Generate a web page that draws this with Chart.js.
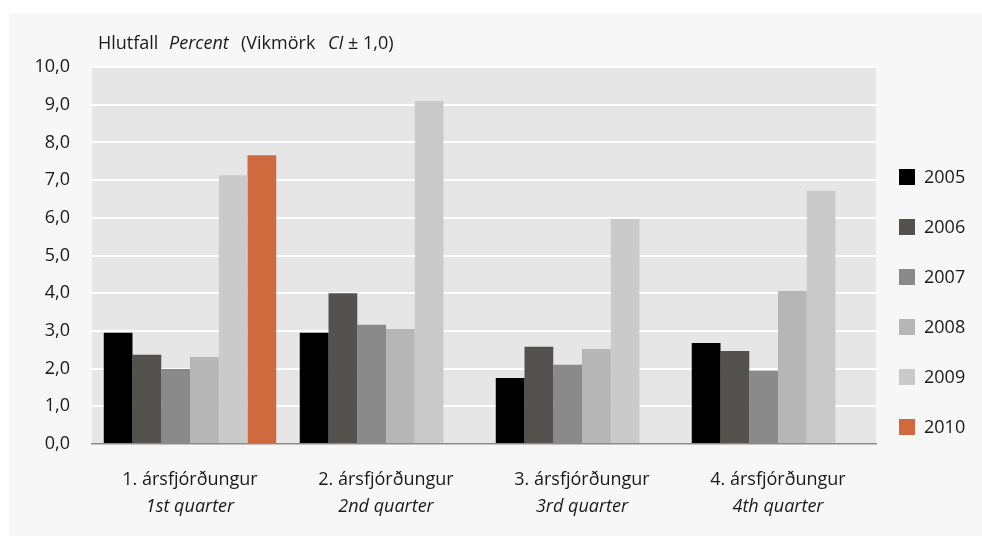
<!DOCTYPE html>
<html>
<head>
<meta charset="utf-8">
<script src="https://cdn.jsdelivr.net/npm/chart.js@4.4.1/dist/chart.umd.min.js"></script>
<style>
  html, body { margin: 0; padding: 0; background: #fff; }
  #wrap { position: relative; width: 982px; height: 536px; }
</style>
</head>
<body>
<div id="wrap"><canvas id="chart" width="982" height="536"></canvas></div>
<script>
// ---- data ----
const quarters = ['1. ársfjórðungur', '2. ársfjórðungur', '3. ársfjórðungur', '4. ársfjórðungur'];
const quartersEn = ['1st quarter', '2nd quarter', '3rd quarter', '4th quarter'];
const years = ['2005', '2006', '2007', '2008', '2009', '2010'];
const v2005 = [2.95, 2.95, 1.75, 2.68];
const v2006 = [2.37, 4.0, 2.58, 2.47];
const v2007 = [1.99, 3.16, 2.1, 1.94];
const v2008 = [2.31, 3.05, 2.52, 4.06];
const v2009 = [7.13, 9.1, 5.97, 6.72];
const v2010 = [7.66, null, null, null];
const yTicks = [0, 1, 2, 3, 4, 5, 6, 7, 8, 9, 10];

const colors = ['#000000', '#53524f', '#8a8a8a', '#b5b6b5', '#cacaca', '#cf6a3e'];
const series = [v2005, v2006, v2007, v2008, v2009, v2010];
const FONT = '"Open Sans", sans-serif';
const TXT = '#1a1a1a';

// panel + plot background
const bgPlugin = {
  id: 'bg',
  beforeDraw(chart) {
    const { ctx, chartArea: a } = chart;
    ctx.save();
    ctx.fillStyle = '#f7f7f7';
    ctx.fillRect(9, 13, chart.width - 9, chart.height - 13);
    ctx.fillStyle = '#e6e6e6';
    ctx.fillRect(a.left, a.top - 1, a.right - a.left, a.bottom - a.top + 1);
    ctx.restore();
  }
};

// title with mixed italic parts, x labels, legend
const textPlugin = {
  id: 'texts',
  afterDraw(chart) {
    const { ctx } = chart;
    ctx.save();
    ctx.fillStyle = TXT;
    ctx.textBaseline = 'alphabetic';
    ctx.textAlign = 'left';

    // axis title: [text, style, x]
    const parts = [
      ['Hlutfall', '', 98], ['Percent', 'italic ', 169], ['(Vikmörk', '', 241],
      ['CI', 'italic ', 328], ['± 1,0)', '', 348]
    ];
    parts.forEach(([t, st, x]) => {
      ctx.font = st + '18px ' + FONT;
      ctx.fillText(t, x, 49);
    });

    // category labels
    const xs = chart.scales.x;
    ctx.textAlign = 'center';
    ctx.textBaseline = 'middle';
    quarters.forEach((q, i) => {
      const px = xs.getPixelForTick(i);
      ctx.font = '18px ' + FONT;
      ctx.fillText(q, px, 480);
      ctx.font = 'italic 18px ' + FONT;
      ctx.fillText(quartersEn[i], px, 507);
    });

    // legend
    ctx.textAlign = 'left';
    chart.data.datasets.forEach((ds, i) => {
      const cy = 177 + i * 50;
      ctx.fillStyle = ds.backgroundColor;
      ctx.fillRect(899, cy - 8, 16, 16);
      ctx.fillStyle = TXT;
      ctx.font = '18px ' + FONT;
      ctx.fillText(ds.label, 924, cy + 1);
    });
    ctx.restore();
  }
};

new Chart(document.getElementById('chart'), {
  type: 'bar',
  data: {
    labels: quarters,
    datasets: years.map((y, i) => ({
      label: y,
      data: series[i],
      backgroundColor: colors[i],
      borderWidth: 0,
      barPercentage: 1,
      categoryPercentage: 0.88
    }))
  },
  options: {
    responsive: false,
    animation: false,
    layout: { padding: { left: 0, top: 67, right: 106, bottom: 0 } },
    plugins: { legend: { display: false }, tooltip: { enabled: false } },
    scales: {
      x: {
        grid: { display: false },
        border: { display: true, color: '#8c8c8c', width: 1.5 },
        ticks: { display: false },
        afterFit(s) { s.height = 92; }
      },
      y: {
        min: 0,
        max: 10,
        afterBuildTicks(s) { s.ticks = yTicks.map(v => ({ value: v })); },
        afterFit(s) { s.width = 92; },
        border: { display: false },
        grid: {
          drawTicks: false,
          lineWidth: 2,
          color: ctx => ctx.tick && ctx.tick.value === 0 ? 'rgba(0,0,0,0)' : '#ffffff'
        },
        ticks: {
          padding: 22,
          color: TXT,
          font: { family: FONT, size: 18 },
          callback: v => v.toFixed(1).replace('.', ',')
        }
      }
    }
  },
  plugins: [bgPlugin, textPlugin]
});
</script>
</body>
</html>
